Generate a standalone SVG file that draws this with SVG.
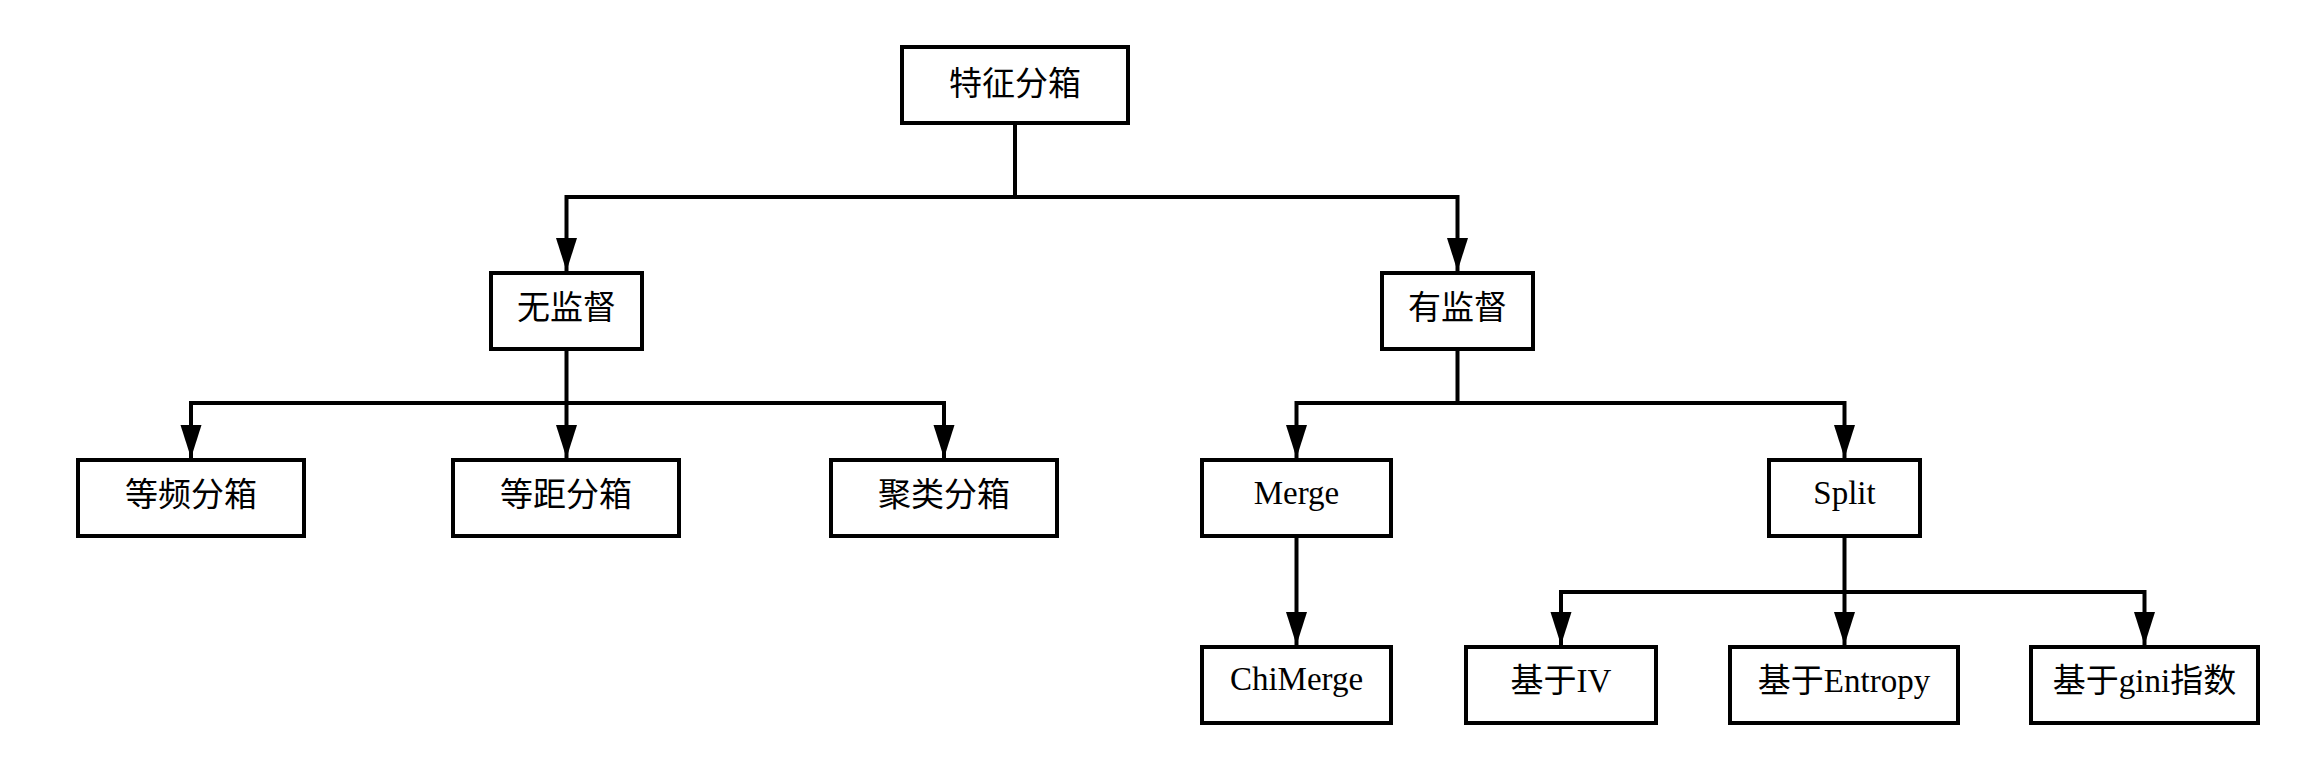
<svg xmlns="http://www.w3.org/2000/svg" width="2303" height="760" viewBox="0 0 2303 760">
<style>
.box{fill:#fff;stroke:#000;stroke-width:4}
.lbl{font-family:"Liberation Serif","Noto Sans CJK SC",serif;font-size:33px;fill:#000;text-anchor:middle}
.c{fill:none;stroke:#000;stroke-width:4}
</style>
<defs>
<marker id="ah" markerUnits="userSpaceOnUse" markerWidth="34" markerHeight="22" refX="33" refY="10.5" orient="auto">
<path d="M0,0 L33,10.5 L0,21 z" fill="#000"/>
</marker>
</defs>
<rect width="2303" height="760" fill="#fff"/>
<g id="connectors">
<path class="c" d="M1015,123 V197 M566.5,197 H1457.5"/>
<path class="c" d="M566.5,195 V271" marker-end="url(#ah)"/>
<path class="c" d="M1457.5,195 V271" marker-end="url(#ah)"/>
<path class="c" d="M566.5,349 V403 M191,403 H944"/>
<path class="c" d="M191,401 V458" marker-end="url(#ah)"/>
<path class="c" d="M566.5,403 V458" marker-end="url(#ah)"/>
<path class="c" d="M944,401 V458" marker-end="url(#ah)"/>
<path class="c" d="M1457.5,349 V403 M1296.5,403 H1844.5"/>
<path class="c" d="M1296.5,401 V458" marker-end="url(#ah)"/>
<path class="c" d="M1844.5,401 V458" marker-end="url(#ah)"/>
<path class="c" d="M1296.5,536 V645" marker-end="url(#ah)"/>
<path class="c" d="M1844.5,536 V592 M1561,592 H2144.5"/>
<path class="c" d="M1561,590 V645" marker-end="url(#ah)"/>
<path class="c" d="M1844.5,592 V645" marker-end="url(#ah)"/>
<path class="c" d="M2144.5,590 V645" marker-end="url(#ah)"/>
</g>
<g id="n-root"><rect class="box" x="902" y="47" width="226" height="76"/><text class="lbl" x="1015" y="95">特征分箱</text></g>
<g id="n-unsup"><rect class="box" x="491" y="273" width="151" height="76"/><text class="lbl" x="566.5" y="319">无监督</text></g>
<g id="n-sup"><rect class="box" x="1382" y="273" width="151" height="76"/><text class="lbl" x="1457.5" y="319">有监督</text></g>
<g id="n-eqfreq"><rect class="box" x="78" y="460" width="226" height="76"/><text class="lbl" x="191" y="506">等频分箱</text></g>
<g id="n-eqdist"><rect class="box" x="453" y="460" width="226" height="76"/><text class="lbl" x="566" y="506">等距分箱</text></g>
<g id="n-cluster"><rect class="box" x="831" y="460" width="226" height="76"/><text class="lbl" x="944" y="506">聚类分箱</text></g>
<g id="n-merge"><rect class="box" x="1202" y="460" width="189" height="76"/><text class="lbl" x="1296.5" y="504">Merge</text></g>
<g id="n-split"><rect class="box" x="1769" y="460" width="151" height="76"/><text class="lbl" x="1844.5" y="504">Split</text></g>
<g id="n-chimerge"><rect class="box" x="1202" y="647" width="189" height="76"/><text class="lbl" x="1296.5" y="690">ChiMerge</text></g>
<g id="n-iv"><rect class="box" x="1466" y="647" width="190" height="76"/><text class="lbl" x="1561" y="692">基于IV</text></g>
<g id="n-entropy"><rect class="box" x="1730" y="647" width="228" height="76"/><text class="lbl" x="1844" y="692">基于Entropy</text></g>
<g id="n-gini"><rect class="box" x="2031" y="647" width="227" height="76"/><text class="lbl" x="2144.5" y="692">基于gini指数</text></g>
</svg>
